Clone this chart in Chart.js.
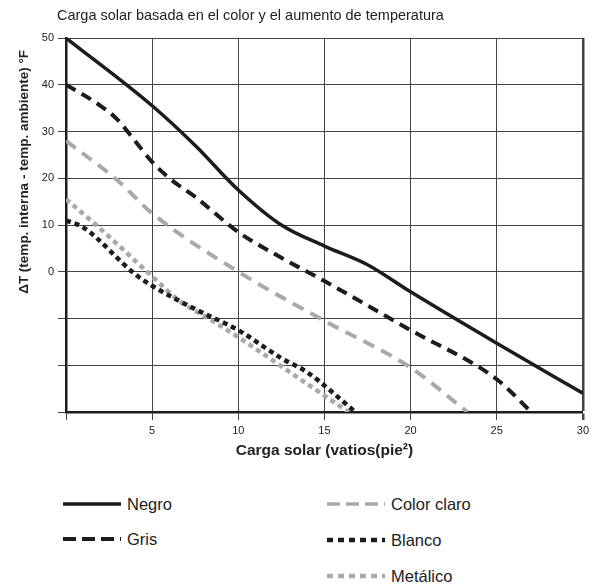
<!DOCTYPE html>
<html>
<head>
<meta charset="utf-8">
<script src="https://cdn.jsdelivr.net/npm/chart.js@4.4.1/dist/chart.umd.min.js"></script>
<style>
  body { margin: 0; background: #fff; font-family: "Liberation Sans", Arial, sans-serif; }
  #wrap { position: relative; width: 593px; height: 584px; }
  #title { position: absolute; left: 57px; top: 7px; font-size: 14.5px; color: #222; white-space: nowrap; }
  #chart { position: absolute; left: 0; top: 0; }
  .leg { position: absolute; display: flex; align-items: center; font-size: 16.5px; color: #222; white-space: nowrap; }
  .leg svg { margin-right: 6px; }
</style>
</head>
<body>
<div id="wrap">
  <canvas id="chart" width="593" height="470"></canvas>
  <div id="title">Carga solar basada en el color y el aumento de temperatura</div>
</div>
<script>
const xTicks = [0, 5, 10, 15, 20, 25, 30];
const yTicks = [-30, -20, -10, 0, 10, 20, 30, 40, 50];
const yTitle = 'ΔT (temp. interna - temp. ambiente) °F';
const xTitle = 'Carga solar (vatios(pie²)';

const seriesNames = ['Negro', 'Gris', 'Color claro', 'Blanco', 'Metálico'];

const negroX = [0, 5, 7.5, 10, 12.5, 15, 17.5, 20, 25, 30];
const negroY = [50, 35.5, 27, 17.5, 10, 5.5, 1.5, -4.3, -15.3, -26];

const grisX = [0, 2, 3, 4, 5, 6, 7.5, 10, 12.5, 14, 15, 20, 25, 27];
const grisY = [40, 35.5, 32.5, 28, 23.5, 20, 16, 8.5, 3, 0, -2, -12.5, -23, -30];

const claroX = [0, 3, 5, 10, 15, 20, 23.3];
const claroY = [28, 19.5, 12.5, 0, -10.5, -20.5, -30];

const blancoX = [0, 1, 4, 5, 7.5, 10, 12.5, 14, 16.8];
const blancoY = [11, 9.5, -0.5, -3, -8, -12.5, -18.5, -21.5, -30];

const metalX = [0, 1.75, 5, 6.5, 8.5, 10, 14, 16.4];
const metalY = [15.5, 10, -1, -6, -10.5, -14, -24, -30];

const BLACK = '#1c1c1c';
const GRAY = '#a9a9a9';

function pts(xs, ys) {
  return xs.map((x, i) => ({ x: x, y: ys[i] }));
}

const styles = [
  { color: BLACK, width: 3.5, dash: [], legDash: [], legWidth: 3.5 },
  { color: BLACK, width: 4, dash: [11, 7], legDash: [13, 6], legWidth: 4 },
  { color: GRAY, width: 4, dash: [12, 8], legDash: [13, 6], legWidth: 3.5 },
  { color: BLACK, width: 4.5, dash: [5, 4], legDash: [6, 5], legWidth: 4.5 },
  { color: GRAY, width: 4.5, dash: [5, 4], legDash: [6, 5], legWidth: 4.5 },
];
const seriesData = [
  pts(negroX, negroY),
  pts(grisX, grisY),
  pts(claroX, claroY),
  pts(blancoX, blancoY),
  pts(metalX, metalY),
];

const datasets = seriesNames.map((name, i) => ({
  label: name,
  data: seriesData[i],
  borderColor: styles[i].color,
  borderWidth: styles[i].width,
  borderDash: styles[i].dash,
  borderCapStyle: 'butt',
  pointRadius: 0,
  fill: false,
  cubicInterpolationMode: 'monotone',
}));

const gridColor = '#444';

// y title sits above the middle of the axis in the original
const yTitlePlugin = {
  id: 'yTitle',
  afterDraw(chart) {
    const a = chart.chartArea;
    const ctx = chart.ctx;
    ctx.save();
    ctx.translate(24, a.top + (a.bottom - a.top) * 0.358);
    ctx.rotate(-Math.PI / 2);
    ctx.font = 'bold 13.5px "Liberation Sans"';
    ctx.fillStyle = '#222';
    ctx.textAlign = 'center';
    ctx.textBaseline = 'middle';
    ctx.fillText(yTitle, 0, 0);
    ctx.restore();
  },
};

const chart = new Chart(document.getElementById('chart'), {
  type: 'line',
  data: { datasets: datasets },
  plugins: [yTitlePlugin],
  options: {
    responsive: false,
    animation: false,
    layout: { padding: { top: 38, right: 9, left: 0, bottom: 0 } },
    plugins: {
      legend: { display: false },
      tooltip: { enabled: false },
    },
    scales: {
      x: {
        type: 'linear',
        min: 0,
        max: 30,
        afterBuildTicks: s => { s.ticks = xTicks.map(v => ({ value: v })); },
        afterFit: s => { s.height = 58; },
        ticks: {
          callback: v => (v > 0 ? v : ''),
          color: '#222',
          font: { family: 'Liberation Sans', size: 11 },
          padding: 4,
          maxRotation: 0,
        },
        grid: {
          color: gridColor,
          lineWidth: c => (c.tick && c.tick.value === 30 ? 2.5 : 1),
          tickLength: 8,
        },
        border: { color: BLACK, width: 2.5 },
        title: {
          display: true,
          text: xTitle,
          color: '#222',
          font: { family: 'Liberation Sans', size: 15.5, weight: 'bold' },
          padding: { top: 0, bottom: 10 },
        },
      },
      y: {
        min: -30,
        max: 50,
        afterBuildTicks: s => { s.ticks = yTicks.map(v => ({ value: v })); },
        afterFit: s => { s.width = 66; },
        ticks: {
          callback: v => (v >= 0 ? v : ''),
          color: '#222',
          font: { family: 'Liberation Sans', size: 11 },
          padding: 4,
        },
        grid: {
          color: gridColor,
          lineWidth: 1,
          tickLength: 8,
        },
        border: { color: BLACK, width: 2.5 },
      },
    },
  },
});

// legend in two columns, built from the datasets
const legendSpots = [[63, 504], [63, 539], [327, 504], [327, 540], [327, 576]];
const wrap = document.getElementById('wrap');
chart.data.datasets.forEach((ds, i) => {
  const st = styles[i];
  const el = document.createElement('div');
  el.className = 'leg';
  el.style.left = legendSpots[i][0] + 'px';
  el.style.top = (legendSpots[i][1] - 11) + 'px';
  el.style.height = '22px';
  const svg = '<svg width="58" height="8"><line x1="0" y1="4" x2="58" y2="4" stroke="' + st.color +
    '" stroke-width="' + st.legWidth + '" stroke-dasharray="' + (st.legDash.length ? st.legDash.join(',') : 'none') + '"/></svg>';
  el.innerHTML = svg + '<span>' + ds.label + '</span>';
  wrap.appendChild(el);
});
</script>
</body>
</html>
